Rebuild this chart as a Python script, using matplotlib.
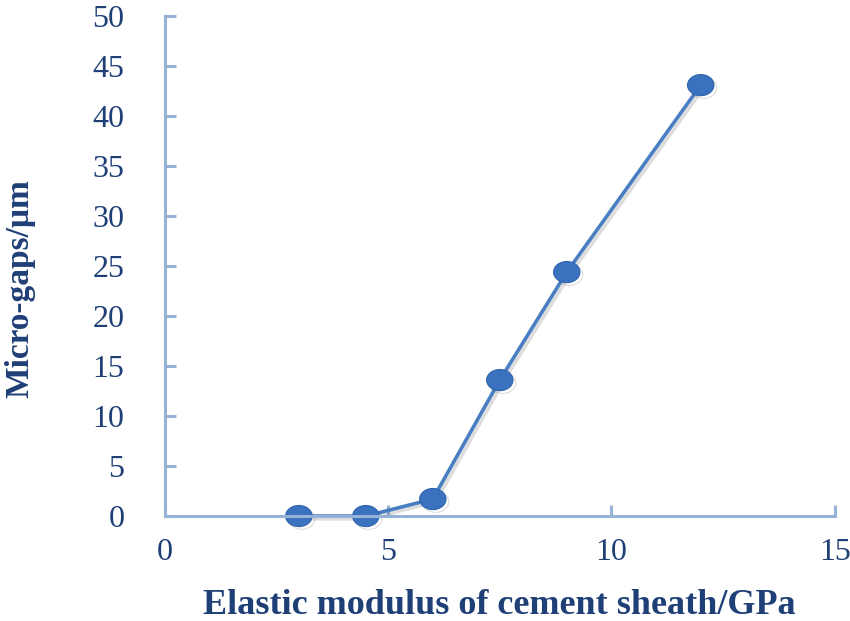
import matplotlib.pyplot as plt
import matplotlib.patheffects as pe
from matplotlib.path import Path
import numpy as np

# Elastic modulus of cement sheath (GPa) vs micro-gap size (um)
modulus = [3.0, 4.5, 6.0, 7.5, 9.0, 12.0]
micro_gaps = [0.0, 0.0, 1.7, 13.6, 24.4, 43.1]

x_ticks = [0, 5, 10, 15]
y_ticks = [0, 5, 10, 15, 20, 25, 30, 35, 40, 45, 50]

text_col = '#1F3F77'
axis_col = '#95B3D7'
line_col = '#4A7EC2'
mark_col = '#3A72C0'

plt.rcParams['font.family'] = ['Liberation Serif', 'DejaVu Serif']

# slightly flattened round marker, like the original
t = np.linspace(0, 2 * np.pi, 60)
ellipse = Path(np.column_stack([1.25 * np.cos(t), np.sin(t)]), closed=True)

fig = plt.figure(figsize=(8.5, 6.21), dpi=100)
ax = fig.add_axes([0.194, 0.169, 0.788, 0.805])

ax.plot(modulus, micro_gaps, color=line_col, linewidth=2.6,
        marker=ellipse, markersize=19, markerfacecolor=mark_col,
        markeredgecolor='#2F64AE', markeredgewidth=0.8, clip_on=False,
        path_effects=[pe.SimpleLineShadow(offset=(2, -2), alpha=0.18, shadow_color='#444444'),
                      pe.Normal()])

ax.set_xlim(0, 15)
ax.set_ylim(0, 50)
ax.set_xticks(x_ticks)
ax.set_yticks(y_ticks)

for s in ['top', 'right']:
    ax.spines[s].set_visible(False)
for s in ['left', 'bottom']:
    ax.spines[s].set_color(axis_col)
    ax.spines[s].set_linewidth(2.2)

ax.tick_params(axis='both', direction='in', length=8, width=2.2, color=axis_col,
               labelsize=23, labelcolor=text_col)
ax.tick_params(axis='x', pad=16)
ax.tick_params(axis='y', pad=29)

ax.set_xlabel('Elastic modulus of cement sheath/GPa', fontsize=26, fontweight='bold',
              color=text_col, va='center')
ax.xaxis.set_label_coords(0.5, -0.178)
ax.set_ylabel('Micro-gaps/μm', fontsize=24, fontweight='bold', color=text_col, va='center')
ax.yaxis.set_label_coords(-0.216, 0.456)

fig.savefig('out.png', dpi=100)
